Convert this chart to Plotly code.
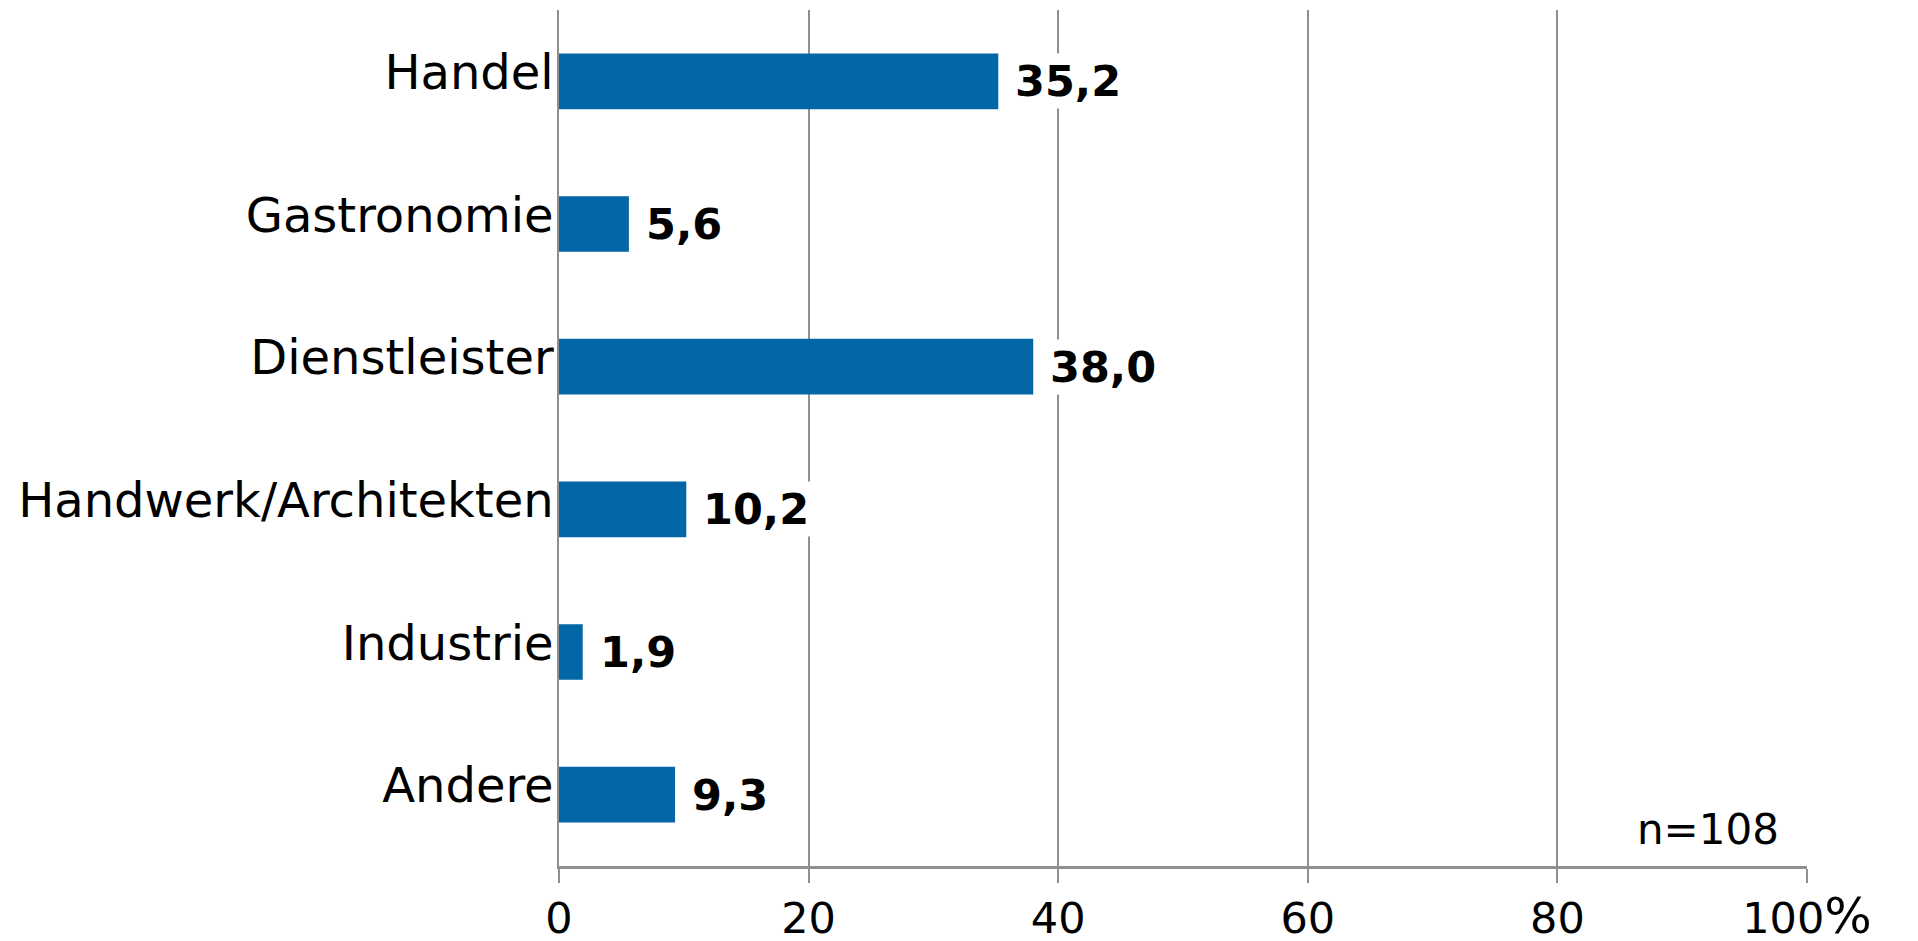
import plotly.graph_objects as go

categories = ["Handel", "Gastronomie", "Dienstleister", "Handwerk/Architekten", "Industrie", "Andere"]
values = [35.2, 5.6, 38.0, 10.2, 1.9, 9.3]
value_labels = ["35,2", "5,6", "38,0", "10,2", "1,9", "9,3"]
tick_vals = [0, 20, 40, 60, 80, 100]
tick_text = ["0", "20", "40", "60", "80", "100<span style='font-size:50px'>%</span>"]
note = "n=108"

FONT = "DejaVu Sans, Verdana, sans-serif"
GRID = "#8f8f8f"

fig = go.Figure()
fig.add_trace(go.Bar(
    x=values, y=categories, orientation="h",
    marker=dict(color="#0366a6", line=dict(width=0)),
    width=0.39, hoverinfo="skip",
))

for c, v, t in zip(categories, values, value_labels):
    fig.add_annotation(
        x=v, y=c, xref="x", yref="y", text="<b>" + t + "</b>",
        showarrow=False, xanchor="left", yanchor="middle", xshift=14,
        font=dict(family=FONT, size=43, color="black"),
        bgcolor="white", borderpad=2,
    )

fig.add_annotation(
    x=0.979, y=0.043, xref="paper", yref="paper", text=note,
    showarrow=False, xanchor="right", yanchor="middle",
    font=dict(family=FONT, size=42, color="black"),
)

fig.update_layout(
    width=1918, height=941,
    margin=dict(l=559, r=111, t=10, b=75),
    paper_bgcolor="white", plot_bgcolor="white",
    showlegend=False,
)
fig.update_xaxes(
    range=[0, 100], tickvals=tick_vals, ticktext=tick_text,
    showgrid=True, gridcolor=GRID, gridwidth=1.5,
    showline=True, linecolor=GRID, linewidth=3,
    ticks="outside", ticklen=14, tickwidth=1.5, tickcolor=GRID,
    ticklabelstandoff=-2,
    tickfont=dict(family=FONT, size=43, color="black"),
    zeroline=False, automargin=False,
)
fig.update_yaxes(
    categoryorder="array", categoryarray=categories,
    range=[5.5, -0.5],
    showgrid=False, showline=True, linecolor=GRID, linewidth=1.5,
    ticks="", ticklabelstandoff=-6, ticklabelshift=9,
    tickfont=dict(family=FONT, size=48, color="black"),
    zeroline=False, automargin=False,
)

fig.write_html(
    "out.html",
    config={"displayModeBar": False},
    post_script="document.body.style.margin='0';document.body.style.overflow='hidden';",
)
